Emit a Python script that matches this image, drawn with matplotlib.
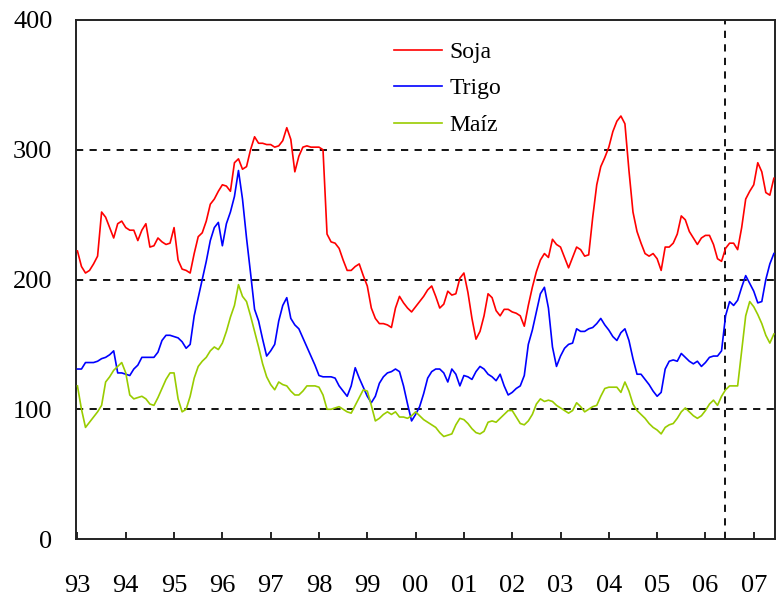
import numpy as np
import matplotlib
matplotlib.use('Agg')
import matplotlib.pyplot as plt

# monthly data, Jan 1993 - Jun 2007 (index 1993 = 100-ish scale)
soja = [222, 210, 205, 207, 212, 218, 252, 248, 240, 232, 243, 245,
        240, 238, 238, 230, 238, 243, 225, 226, 232, 229, 227, 228,
        240, 215, 208, 207, 205, 220, 233, 236, 245, 258, 262, 268,
        273, 272, 268, 290, 293, 285, 287, 300, 310, 305, 305, 304,
        304, 302, 303, 307, 317, 308, 283, 295, 302, 303, 302, 302,
        302, 300, 235, 229, 228, 224, 215, 207, 207, 210, 212, 203,
        195, 178, 170, 166, 166, 165, 163, 178, 187, 182, 178, 175,
        179, 183, 187, 192, 195, 187, 178, 181, 191, 188, 189, 201,
        205, 190, 170, 154, 160, 172, 189, 186, 176, 172, 177, 177,
        175, 174, 172, 164, 180, 194, 206, 215, 220, 217, 231, 227,
        225, 217, 209, 217, 225, 223, 218, 219, 248, 273, 287, 294,
        302, 314, 322, 326, 320, 284, 252, 237, 228, 220, 218, 220,
        216, 207, 225, 225, 228, 235, 249, 246, 237, 232, 227, 232,
        234, 234, 227, 216, 214, 224, 228, 228, 223, 240, 262, 268,
        273, 290, 283, 267, 265, 278]

trigo = [131, 131, 136, 136, 136, 137, 139, 140, 142, 145, 128, 128,
         127, 126, 131, 134, 140, 140, 140, 140, 144, 153, 157, 157,
         156, 155, 152, 147, 150, 172, 186, 200, 214, 230, 240, 244,
         226, 243, 252, 264, 284, 262, 232, 205, 177, 168, 154, 141,
         145, 150, 168, 180, 186, 170, 165, 162, 155, 148, 141, 134,
         126, 125, 125, 125, 124, 118, 114, 110, 118, 132, 124, 117,
         110, 105, 110, 120, 125, 128, 129, 131, 129, 118, 104, 91,
         96, 102, 112, 124, 129, 131, 131, 128, 121, 131, 127, 118,
         126, 125, 123, 129, 133, 131, 127, 125, 122, 127, 118, 111,
         113, 116, 118, 126, 150, 161, 175, 189, 194, 178, 148, 133,
         141, 147, 150, 151, 162, 160, 160, 162, 163, 166, 170, 165,
         161, 156, 153, 159, 162, 153, 139, 127, 127, 123, 119, 114,
         110, 113, 131, 137, 138, 137, 143, 140, 137, 135, 137, 133,
         136, 140, 141, 141, 145, 172, 183, 180, 184, 194, 203, 197,
         191, 182, 183, 200, 212, 220]

maiz = [118, 100, 86, 90, 94, 98, 103, 121, 125, 130, 133, 136,
        128, 111, 108, 109, 110, 108, 104, 103, 109, 116, 123, 128,
        128, 108, 98, 100, 110, 124, 133, 137, 140, 145, 148, 146,
        151, 160, 171, 180, 196, 187, 183, 172, 160, 148, 135, 125,
        119, 115, 121, 119, 118, 114, 111, 111, 114, 118, 118, 118,
        117, 111, 100, 100, 101, 102, 100, 98, 97, 103, 109, 115,
        114, 103, 91, 93, 96, 98, 96, 98, 94, 94, 93, 95,
        98, 95, 92, 90, 88, 86, 82, 79, 80, 81, 88, 93,
        92, 89, 85, 82, 81, 83, 90, 91, 90, 93, 96, 99,
        99, 94, 89, 88, 91, 96, 104, 108, 106, 107, 106, 103,
        101, 99, 97, 99, 105, 102, 98, 100, 102, 103, 110, 116,
        117, 117, 117, 113, 121, 114, 104, 99, 96, 93, 89, 86,
        84, 81, 86, 88, 89, 93, 98, 101, 98, 95, 93, 95,
        99, 104, 107, 103, 110, 115, 118, 118, 118, 145, 172, 183,
        179, 173, 166, 157, 151, 158]

years = list(range(1993, 2008))
year_labels = ['93', '94', '95', '96', '97', '98', '99', '00',
               '01', '02', '03', '04', '05', '06', '07']
cut_date = 2006.4  # vertical dashed marker

t = 1993 + np.arange(len(soja)) / 12

plt.rcParams['font.family'] = ['Liberation Serif', 'DejaVu Serif']

fig = plt.figure(figsize=(7.78, 6.03), dpi=100)
ax = fig.add_axes([76 / 778, 1 - 539 / 603, 699 / 778, 519 / 603])

for yv in [100, 200, 300]:
    ax.axhline(yv, color='black', lw=1.3, ls=(0, (4, 3.5)), zorder=1)
ax.axvline(cut_date, color='black', lw=1.3, ls=(0, (4, 3.5)), zorder=1)

ax.plot(t, soja, color='#ff0000', lw=1.2, label='Soja', zorder=3)
ax.plot(t, trigo, color='#0000ff', lw=1.2, label='Trigo', zorder=3)
ax.plot(t, maiz, color='#99cc00', lw=1.2, label='Maíz', zorder=3)

ax.set_xlim(1992.97, 2007.44)
ax.set_ylim(0, 400)
ax.set_xticks(years)
ax.set_xticklabels(year_labels)
ax.set_yticks([0, 100, 200, 300, 400])
ax.tick_params(axis='x', direction='in', length=5, width=1.2, pad=26, labelsize=19)
ax.tick_params(axis='y', length=0, pad=17, labelsize=19)
for s in ax.spines.values():
    s.set_linewidth(1.4)
    s.set_color('#222222')

ax.legend(loc='upper left', bbox_to_anchor=(0.455, 0.959), frameon=False,
          fontsize=17, handlelength=2.05, handletextpad=0.3, labelspacing=0.64,
          borderpad=0, borderaxespad=0)

fig.savefig('out.png', dpi=100)
